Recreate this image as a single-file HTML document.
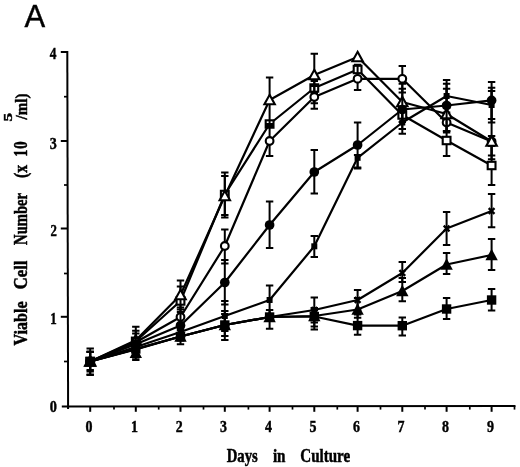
<!DOCTYPE html>
<html><head><meta charset="utf-8"><title>A</title>
<style>html,body{margin:0;padding:0;background:#fff}svg{display:block}</style></head>
<body>
<svg width="520" height="467" viewBox="0 0 520 467">
<rect width="520" height="467" fill="#fff"/>
<g stroke="#000" stroke-width="2" fill="none" stroke-linecap="butt">
<path d="M67.3 51 L68.1 409"/>
<path d="M61.8 406.4 L515.5 406"/>
<path d="M60.8 316.8 H67.8"/>
<path d="M60.8 228.5 H67.8"/>
<path d="M60.8 141.0 H67.8"/>
<path d="M60.8 52.0 H67.8"/>
<path d="M64 361.5 H67.8" stroke-width="1.7"/>
<path d="M64 273.5 H67.8" stroke-width="1.7"/>
<path d="M64 185.0 H67.8" stroke-width="1.7"/>
<path d="M64 96.7 H67.8" stroke-width="1.7"/>
<path d="M90.2 406.2 V411.8"/>
<path d="M135.8 406.2 V411.8"/>
<path d="M180.5 406.2 V411.8"/>
<path d="M224.8 406.2 V411.8"/>
<path d="M269.6 406.2 V411.8"/>
<path d="M314.3 406.2 V411.8"/>
<path d="M357.6 406.2 V411.8"/>
<path d="M402.3 406.2 V411.8"/>
<path d="M446.6 406.2 V411.8"/>
<path d="M491.6 406.2 V411.8"/>
<path d="M114.0 406.2 V409.6" stroke-width="1.7"/>
<path d="M158.7 406.2 V409.6" stroke-width="1.7"/>
<path d="M203.5 406.2 V409.6" stroke-width="1.7"/>
<path d="M248.4 406.2 V409.6" stroke-width="1.7"/>
<path d="M292.5 406.2 V409.6" stroke-width="1.7"/>
<path d="M337.3 406.2 V409.6" stroke-width="1.7"/>
<path d="M380.5 406.2 V409.6" stroke-width="1.7"/>
<path d="M425.0 406.2 V409.6" stroke-width="1.7"/>
<path d="M469.8 406.2 V409.6" stroke-width="1.7"/>
<path d="M514.5 406.2 V409.6" stroke-width="1.7"/>
</g>
<g>
<polyline points="90.2,361.5 135.8,341.3 180.5,301.0 224.8,194.5 269.6,124.0 314.3,88.0 357.6,69.5 402.3,115.0 446.6,140.5 491.6,165.5" stroke="#000" stroke-width="2.2" fill="none" stroke-linejoin="round"/>
<path d="M135.8 333.6 V349.0 M132.1 333.6 H139.5 M132.1 349.0 H139.5 M180.5 286.4 V315.6 M176.8 286.4 H184.2 M176.8 315.6 H184.2 M224.8 176.0 V217.5 M221.1 176.0 H228.5 M221.1 217.5 H228.5 M314.3 80.9 V103.3 M310.6 80.9 H318.0 M310.6 103.3 H318.0 M446.6 125.0 V156.0 M442.9 125.0 H450.3 M442.9 156.0 H450.3 M491.6 146.0 V185.0 M487.9 146.0 H495.3 M487.9 185.0 H495.3" stroke="#000" stroke-width="2.0" fill="none"/>
<rect x="86.3" y="357.8" width="7.8" height="7.4" fill="#fff" stroke="#000" stroke-width="2.1"/>
<rect x="131.9" y="337.6" width="7.8" height="7.4" fill="#fff" stroke="#000" stroke-width="2.1"/>
<rect x="176.6" y="297.3" width="7.8" height="7.4" fill="#fff" stroke="#000" stroke-width="2.1"/>
<rect x="220.9" y="190.8" width="7.8" height="7.4" fill="#fff" stroke="#000" stroke-width="2.1"/>
<rect x="265.7" y="120.3" width="7.8" height="7.4" fill="#fff" stroke="#000" stroke-width="2.1"/>
<rect x="310.4" y="84.3" width="7.8" height="7.4" fill="#fff" stroke="#000" stroke-width="2.1"/>
<rect x="353.7" y="65.8" width="7.8" height="7.4" fill="#fff" stroke="#000" stroke-width="2.1"/>
<rect x="398.4" y="111.3" width="7.8" height="7.4" fill="#fff" stroke="#000" stroke-width="2.1"/>
<rect x="442.7" y="136.8" width="7.8" height="7.4" fill="#fff" stroke="#000" stroke-width="2.1"/>
<rect x="487.7" y="161.8" width="7.8" height="7.4" fill="#fff" stroke="#000" stroke-width="2.1"/>
</g>
<g>
<polyline points="90.2,361.5 135.8,342.3 180.5,317.0 224.8,246.0 269.6,141.0 314.3,97.0 357.6,78.8 402.3,78.8 446.6,122.5 491.6,141.5" stroke="#000" stroke-width="2.2" fill="none" stroke-linejoin="round"/>
<path d="M90.2 348.5 V374.5 M86.5 348.5 H93.9 M86.5 374.5 H93.9 M135.8 326.8 V357.8 M132.1 326.8 H139.5 M132.1 357.8 H139.5 M180.5 307.6 V326.4 M176.8 307.6 H184.2 M176.8 326.4 H184.2 M224.8 229.5 V263.5 M221.1 229.5 H228.5 M221.1 263.5 H228.5 M269.6 126.0 V156.0 M265.9 126.0 H273.3 M265.9 156.0 H273.3 M314.3 86.0 V108.7 M310.6 86.0 H318.0 M310.6 108.7 H318.0 M357.6 64.8 V90.0 M353.9 64.8 H361.3 M353.9 90.0 H361.3 M402.3 66.0 V92.5 M398.6 66.0 H406.0 M398.6 92.5 H406.0 M446.6 112.5 V132.5 M442.9 112.5 H450.3 M442.9 132.5 H450.3 M491.6 136.0 V155.5 M487.9 136.0 H495.3 M487.9 155.5 H495.3" stroke="#000" stroke-width="2.0" fill="none"/>
<circle cx="90.2" cy="361.5" r="3.85" fill="#fff" stroke="#000" stroke-width="2.1"/>
<circle cx="135.8" cy="342.3" r="3.85" fill="#fff" stroke="#000" stroke-width="2.1"/>
<circle cx="180.5" cy="317.0" r="3.85" fill="#fff" stroke="#000" stroke-width="2.1"/>
<circle cx="224.8" cy="246.0" r="3.85" fill="#fff" stroke="#000" stroke-width="2.1"/>
<circle cx="269.6" cy="141.0" r="3.85" fill="#fff" stroke="#000" stroke-width="2.1"/>
<circle cx="314.3" cy="97.0" r="3.85" fill="#fff" stroke="#000" stroke-width="2.1"/>
<circle cx="357.6" cy="78.8" r="3.85" fill="#fff" stroke="#000" stroke-width="2.1"/>
<circle cx="402.3" cy="78.8" r="3.85" fill="#fff" stroke="#000" stroke-width="2.1"/>
<circle cx="446.6" cy="122.5" r="3.85" fill="#fff" stroke="#000" stroke-width="2.1"/>
<circle cx="491.6" cy="141.5" r="3.85" fill="#fff" stroke="#000" stroke-width="2.1"/>
</g>
<g>
<polyline points="90.2,361.5 135.8,340.3 180.5,295.0 224.8,196.0 269.6,100.0 314.3,75.0 357.6,57.0 402.3,102.0 446.6,114.0 491.6,141.5" stroke="#000" stroke-width="2.2" fill="none" stroke-linejoin="round"/>
<path d="M135.8 330.7 V350.0 M132.1 330.7 H139.5 M132.1 350.0 H139.5 M180.5 280.6 V309.6 M176.8 280.6 H184.2 M176.8 309.6 H184.2 M224.8 172.5 V215.0 M221.1 172.5 H228.5 M221.1 215.0 H228.5 M269.6 77.5 V124.0 M265.9 77.5 H273.3 M265.9 124.0 H273.3 M314.3 53.8 V93.0 M310.6 53.8 H318.0 M310.6 93.0 H318.0 M402.3 83.8 V122.0 M398.6 83.8 H406.0 M398.6 122.0 H406.0 M446.6 88.8 V131.0 M442.9 88.8 H450.3 M442.9 131.0 H450.3 M491.6 91.0 V159.3 M487.9 91.0 H495.3 M487.9 159.3 H495.3" stroke="#000" stroke-width="2.0" fill="none"/>
<path d="M90.2 356.3 L95.4 365.7 H85.0 Z" fill="#fff" stroke="#000" stroke-width="2.1"/>
<path d="M135.8 335.1 L141.0 344.5 H130.6 Z" fill="#fff" stroke="#000" stroke-width="2.1"/>
<path d="M180.5 289.8 L185.7 299.2 H175.3 Z" fill="#fff" stroke="#000" stroke-width="2.1"/>
<path d="M224.8 190.8 L230.0 200.2 H219.6 Z" fill="#fff" stroke="#000" stroke-width="2.1"/>
<path d="M269.6 94.8 L274.8 104.2 H264.4 Z" fill="#fff" stroke="#000" stroke-width="2.1"/>
<path d="M314.3 69.8 L319.5 79.2 H309.1 Z" fill="#fff" stroke="#000" stroke-width="2.1"/>
<path d="M357.6 51.8 L362.8 61.2 H352.4 Z" fill="#fff" stroke="#000" stroke-width="2.1"/>
<path d="M402.3 96.8 L407.5 106.2 H397.1 Z" fill="#fff" stroke="#000" stroke-width="2.1"/>
<path d="M446.6 108.8 L451.8 118.2 H441.4 Z" fill="#fff" stroke="#000" stroke-width="2.1"/>
<path d="M491.6 136.3 L496.8 145.7 H486.4 Z" fill="#fff" stroke="#000" stroke-width="2.1"/>
</g>
<g>
<polyline points="90.2,361.5 135.8,349.0 180.5,336.5 224.8,325.0 269.6,317.0 314.3,310.0 357.6,300.0 402.3,273.0 446.6,228.5 491.6,211.0" stroke="#000" stroke-width="2.2" fill="none" stroke-linejoin="round"/>
<path d="M314.3 297.5 V322.5 M310.6 297.5 H318.0 M310.6 322.5 H318.0 M357.6 290.0 V310.0 M353.9 290.0 H361.3 M353.9 310.0 H361.3 M402.3 262.0 V282.0 M398.6 262.0 H406.0 M398.6 282.0 H406.0 M446.6 212.0 V245.0 M442.9 212.0 H450.3 M442.9 245.0 H450.3 M491.6 194.0 V227.3 M487.9 194.0 H495.3 M487.9 227.3 H495.3" stroke="#000" stroke-width="2.0" fill="none"/>
<path d="M311.4 307.1 L317.2 312.9 M317.2 307.1 L311.4 312.9" stroke="#000" stroke-width="2.3" fill="none"/>
<path d="M354.7 297.1 L360.5 302.9 M360.5 297.1 L354.7 302.9" stroke="#000" stroke-width="2.3" fill="none"/>
<path d="M399.4 270.1 L405.2 275.9 M405.2 270.1 L399.4 275.9" stroke="#000" stroke-width="2.3" fill="none"/>
<path d="M443.7 225.6 L449.5 231.4 M449.5 225.6 L443.7 231.4" stroke="#000" stroke-width="2.3" fill="none"/>
<path d="M488.7 208.1 L494.5 213.9 M494.5 208.1 L488.7 213.9" stroke="#000" stroke-width="2.3" fill="none"/>
</g>
<g>
<polyline points="90.2,361.5 135.8,347.0 180.5,332.0 224.8,316.0 269.6,300.0 314.3,246.3 357.6,157.8 402.3,122.5 446.6,96.0 491.6,105.0" stroke="#000" stroke-width="2.2" fill="none" stroke-linejoin="round"/>
<path d="M224.8 301.0 V331.0 M221.1 301.0 H228.5 M221.1 331.0 H228.5 M269.6 285.5 V314.5 M265.9 285.5 H273.3 M265.9 314.5 H273.3 M314.3 236.0 V257.0 M310.6 236.0 H318.0 M310.6 257.0 H318.0 M357.6 155.0 V168.5 M353.9 155.0 H361.3 M353.9 168.5 H361.3 M402.3 111.0 V133.8 M398.6 111.0 H406.0 M398.6 133.8 H406.0 M446.6 83.8 V108.0 M442.9 83.8 H450.3 M442.9 108.0 H450.3 M491.6 87.7 V122.4 M487.9 87.7 H495.3 M487.9 122.4 H495.3" stroke="#000" stroke-width="2.0" fill="none"/>
<rect x="87.2" y="358.5" width="6" height="6" fill="#000"/>
<rect x="132.8" y="344.0" width="6" height="6" fill="#000"/>
<rect x="177.5" y="329.0" width="6" height="6" fill="#000"/>
<rect x="221.8" y="313.0" width="6" height="6" fill="#000"/>
<rect x="266.6" y="297.0" width="6" height="6" fill="#000"/>
<rect x="311.3" y="243.3" width="6" height="6" fill="#000"/>
<rect x="354.6" y="154.8" width="6" height="6" fill="#000"/>
<rect x="399.3" y="119.5" width="6" height="6" fill="#000"/>
<rect x="443.6" y="93.0" width="6" height="6" fill="#000"/>
<rect x="488.6" y="102.0" width="6" height="6" fill="#000"/>
</g>
<g>
<polyline points="90.2,361.5 135.8,344.2 180.5,325.5 224.8,282.5 269.6,225.0 314.3,172.0 357.6,145.0 402.3,109.5 446.6,105.5 491.6,100.4" stroke="#000" stroke-width="2.2" fill="none" stroke-linejoin="round"/>
<path d="M90.2 351.5 V371.5 M86.5 351.5 H93.9 M86.5 371.5 H93.9 M180.5 312.0 V339.0 M176.8 312.0 H184.2 M176.8 339.0 H184.2 M224.8 260.0 V304.5 M221.1 260.0 H228.5 M221.1 304.5 H228.5 M269.6 201.5 V248.0 M265.9 201.5 H273.3 M265.9 248.0 H273.3 M314.3 150.0 V193.5 M310.6 150.0 H318.0 M310.6 193.5 H318.0 M357.6 122.5 V167.5 M353.9 122.5 H361.3 M353.9 167.5 H361.3 M402.3 88.8 V129.0 M398.6 88.8 H406.0 M398.6 129.0 H406.0 M446.6 80.0 V131.0 M442.9 80.0 H450.3 M442.9 131.0 H450.3 M491.6 82.0 V119.0 M487.9 82.0 H495.3 M487.9 119.0 H495.3" stroke="#000" stroke-width="2.0" fill="none"/>
<circle cx="90.2" cy="361.5" r="4.85" fill="#000"/>
<circle cx="135.8" cy="344.2" r="4.85" fill="#000"/>
<circle cx="180.5" cy="325.5" r="4.85" fill="#000"/>
<circle cx="224.8" cy="282.5" r="4.85" fill="#000"/>
<circle cx="269.6" cy="225.0" r="4.85" fill="#000"/>
<circle cx="314.3" cy="172.0" r="4.85" fill="#000"/>
<circle cx="357.6" cy="145.0" r="4.85" fill="#000"/>
<circle cx="402.3" cy="109.5" r="4.85" fill="#000"/>
<circle cx="446.6" cy="105.5" r="4.85" fill="#000"/>
<circle cx="491.6" cy="100.4" r="4.85" fill="#000"/>
</g>
<g>
<polyline points="90.2,361.5 135.8,349.0 180.5,336.5 224.8,325.0 269.6,317.0 314.3,316.5 357.6,325.6 402.3,325.7 446.6,309.0 491.6,300.0" stroke="#000" stroke-width="2.2" fill="none" stroke-linejoin="round"/>
<path d="M90.2 352.0 V375.0 M86.5 352.0 H93.9 M86.5 375.0 H93.9 M135.8 338.0 V360.0 M132.1 338.0 H139.5 M132.1 360.0 H139.5 M180.5 328.0 V344.2 M176.8 328.0 H184.2 M176.8 344.2 H184.2 M224.8 314.0 V336.0 M221.1 314.0 H228.5 M221.1 336.0 H228.5 M269.6 310.0 V328.8 M265.9 310.0 H273.3 M265.9 328.8 H273.3 M314.3 308.0 V329.5 M310.6 308.0 H318.0 M310.6 329.5 H318.0 M357.6 314.5 V334.8 M353.9 314.5 H361.3 M353.9 334.8 H361.3 M402.3 317.4 V335.4 M398.6 317.4 H406.0 M398.6 335.4 H406.0 M446.6 298.0 V319.0 M442.9 298.0 H450.3 M442.9 319.0 H450.3 M491.6 289.0 V310.5 M487.9 289.0 H495.3 M487.9 310.5 H495.3" stroke="#000" stroke-width="2.0" fill="none"/>
<rect x="85.5" y="356.8" width="9.4" height="9.4" fill="#000"/>
<rect x="131.1" y="344.3" width="9.4" height="9.4" fill="#000"/>
<rect x="175.8" y="331.8" width="9.4" height="9.4" fill="#000"/>
<rect x="220.1" y="320.3" width="9.4" height="9.4" fill="#000"/>
<rect x="264.9" y="312.3" width="9.4" height="9.4" fill="#000"/>
<rect x="309.6" y="311.8" width="9.4" height="9.4" fill="#000"/>
<rect x="352.9" y="320.9" width="9.4" height="9.4" fill="#000"/>
<rect x="397.6" y="321.0" width="9.4" height="9.4" fill="#000"/>
<rect x="441.9" y="304.3" width="9.4" height="9.4" fill="#000"/>
<rect x="486.9" y="295.3" width="9.4" height="9.4" fill="#000"/>
</g>
<g>
<polyline points="90.2,361.5 135.8,349.5 180.5,336.5 224.8,325.0 269.6,317.0 314.3,316.0 357.6,309.5 402.3,291.0 446.6,264.5 491.6,255.0" stroke="#000" stroke-width="2.2" fill="none" stroke-linejoin="round"/>
<path d="M90.2 352.0 V370.0 M86.5 352.0 H93.9 M86.5 370.0 H93.9 M180.5 330.0 V340.5 M176.8 330.0 H184.2 M176.8 340.5 H184.2 M224.8 311.0 V340.0 M221.1 311.0 H228.5 M221.1 340.0 H228.5 M314.3 310.0 V326.5 M310.6 310.0 H318.0 M310.6 326.5 H318.0 M357.6 298.0 V317.7 M353.9 298.0 H361.3 M353.9 317.7 H361.3 M402.3 278.0 V301.3 M398.6 278.0 H406.0 M398.6 301.3 H406.0 M446.6 253.0 V274.0 M442.9 253.0 H450.3 M442.9 274.0 H450.3 M491.6 239.0 V270.0 M487.9 239.0 H495.3 M487.9 270.0 H495.3" stroke="#000" stroke-width="2.0" fill="none"/>
<path d="M90.2 355.2 L96.4 366.7 H84.0 Z" fill="#000"/>
<path d="M135.8 346.5 L142.0 358.0 H129.6 Z" fill="#000"/>
<path d="M180.5 330.2 L186.7 341.7 H174.3 Z" fill="#000"/>
<path d="M224.8 318.7 L231.0 330.2 H218.6 Z" fill="#000"/>
<path d="M269.6 310.7 L275.8 322.2 H263.4 Z" fill="#000"/>
<path d="M314.3 309.7 L320.5 321.2 H308.1 Z" fill="#000"/>
<path d="M357.6 303.2 L363.8 314.7 H351.4 Z" fill="#000"/>
<path d="M402.3 284.7 L408.5 296.2 H396.1 Z" fill="#000"/>
<path d="M446.6 258.2 L452.8 269.7 H440.4 Z" fill="#000"/>
<path d="M491.6 248.7 L497.8 260.2 H485.4 Z" fill="#000"/>
</g>
<g font-family="'Liberation Serif', serif" font-weight="bold" font-size="15" fill="#000" stroke="#000" stroke-width="0.4">
<text transform="translate(49.63 412.40) scale(0.952 1.07)" font-size="15">0</text>
<text transform="translate(50.36 324.00) scale(0.865 1.07)" font-size="15">1</text>
<text transform="translate(50.39 235.90) scale(0.851 1.07)" font-size="15">2</text>
<text transform="translate(49.64 148.70) scale(0.941 1.07)" font-size="15">3</text>
<text transform="translate(49.80 59.00) scale(0.889 1.07)" font-size="15">4</text>
<text transform="translate(85.51 431.80) scale(0.930 1.11)" font-size="15">0</text>
<text transform="translate(130.90 431.80) scale(0.930 1.11)" font-size="15">1</text>
<text transform="translate(175.85 431.80) scale(0.930 1.11)" font-size="15">2</text>
<text transform="translate(220.08 431.80) scale(0.930 1.11)" font-size="15">3</text>
<text transform="translate(264.95 431.80) scale(0.930 1.11)" font-size="15">4</text>
<text transform="translate(309.58 431.80) scale(0.930 1.11)" font-size="15">5</text>
<text transform="translate(352.88 431.80) scale(0.930 1.11)" font-size="15">6</text>
<text transform="translate(397.40 431.80) scale(0.930 1.11)" font-size="15">7</text>
<text transform="translate(441.91 431.80) scale(0.930 1.11)" font-size="15">8</text>
<text transform="translate(486.98 431.80) scale(0.930 1.11)" font-size="15">9</text>
<text transform="translate(226.71 461.90) scale(0.981 1.2)" font-size="15">Days</text>
<text transform="translate(272.90 461.90) scale(1.008 1.2)" font-size="15">in</text>
<text transform="translate(300.25 461.90) scale(1.006 1.2)" font-size="15">Culture</text>
<text transform="translate(27.40 345.56) rotate(-90) scale(1.079 1.2)" font-size="15">Viable</text>
<text transform="translate(27.40 289.23) rotate(-90) scale(1.112 1.2)" font-size="15">Cell</text>
<text transform="translate(27.40 244.89) rotate(-90) scale(0.974 1.2)" font-size="15">Number</text>
<text transform="translate(27.40 178.11) rotate(-90) scale(1.053 1.2)" font-size="15">(x</text>
<text transform="translate(27.40 156.75) rotate(-90) scale(0.955 1.2)" font-size="15">1</text>
<text transform="translate(27.40 149.12) rotate(-90) scale(1.032 1.2)" font-size="15">0</text>
<text transform="translate(27.40 119.55) rotate(-90) scale(1.006 1.15)" font-size="15">/ml)</text>
<text transform="translate(12.00 121.59) rotate(-90) scale(1.494 1.0)" font-size="11.5">5</text>
</g>
<text x="24.4" y="27.2" font-family="'Liberation Sans', sans-serif" font-size="31" fill="#000" stroke="#000" stroke-width="0.4">A</text>
</svg>
</body></html>
